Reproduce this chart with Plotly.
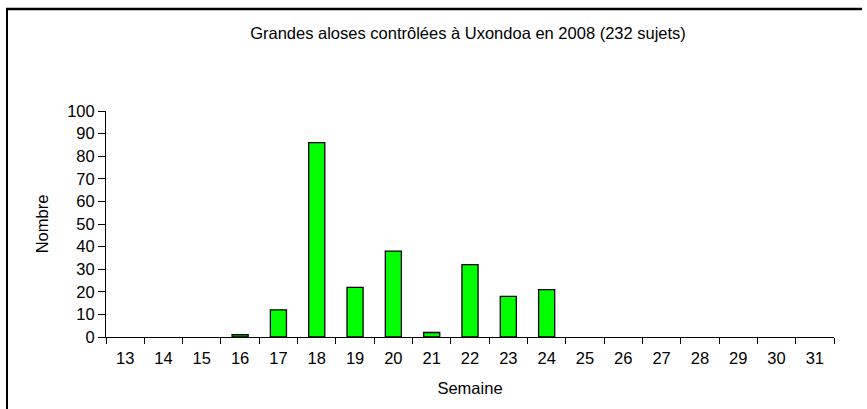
import plotly.graph_objects as go

semaines = [str(s) for s in range(13, 32)]
nombre = [0, 0, 0, 1, 12, 86, 22, 38, 2, 32, 18, 21, 0, 0, 0, 0, 0, 0, 0]
titre = "Grandes aloses contrôlées à Uxondoa en 2008 (232 sujets)"

W, H = 867, 409
L, R, T, B = 106, 33, 111, 72
pw, ph = W - L - R, H - T - B

def px_x(px):
    return (px - L) / pw

def px_y(py):
    return (H - B - py) / ph

FS = 16.5

fig = go.Figure(go.Bar(
    x=semaines, y=nombre, width=0.42,
    marker=dict(color="#00FF00",
                line=dict(color="black", width=[1.3 if v > 0 else 0 for v in nombre])),
))

font = dict(family="Liberation Sans, Arial, sans-serif", size=FS, color="black")

fig.update_layout(
    width=W, height=H,
    margin=dict(l=L, r=R, t=T, b=B),
    paper_bgcolor="white", plot_bgcolor="white",
    font=font,
    showlegend=False,
    title=dict(text=titre, x=468 / W, xanchor="center",
               y=1 - 33 / H, yanchor="middle", font=dict(size=FS)),
    xaxis=dict(type="category", showline=True, linecolor="black", linewidth=1,
               ticks="outside", ticklen=6, tickcolor="black", tickson="boundaries",
               ticklabelstandoff=6,
               showgrid=False, zeroline=False,
               title=dict(text="Semaine", standoff=16, font=dict(size=FS)),
               tickfont=dict(size=FS)),
    yaxis=dict(range=[0, 100], dtick=10, showline=True, linecolor="black", linewidth=1,
               ticks="outside", ticklen=7, tickcolor="black",
               showgrid=False, zeroline=False,
               title=dict(text="Nombre", standoff=14, font=dict(size=FS)),
               tickfont=dict(size=FS)),
    shapes=[
        dict(type="line", xref="paper", yref="paper",
             x0=px_x(6), x1=px_x(862), y0=px_y(9), y1=px_y(9),
             line=dict(color="black", width=2.5)),
        dict(type="line", xref="paper", yref="paper",
             x0=px_x(7), x1=px_x(7), y0=px_y(8), y1=px_y(412),
             line=dict(color="black", width=2)),
    ],
)

fig.write_html("out.html", config={"displayModeBar": False},
               post_script="document.body.style.margin='0';document.body.style.overflow='hidden';")
